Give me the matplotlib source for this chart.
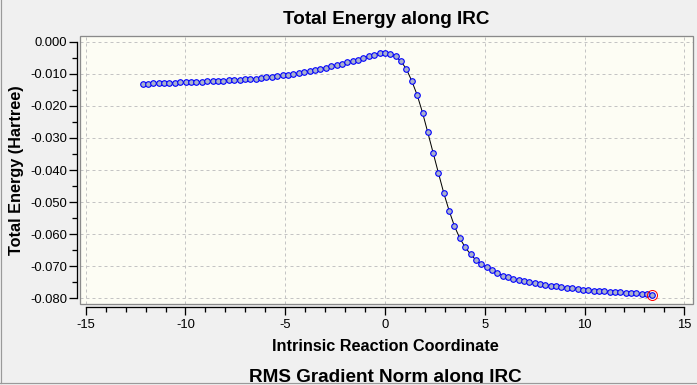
import matplotlib
matplotlib.use("Agg")
import matplotlib.pyplot as plt
from matplotlib.patches import Rectangle
from matplotlib.lines import Line2D
from matplotlib.ticker import MultipleLocator, FixedLocator

plt.rcParams['font.family'] = ['Liberation Sans', 'DejaVu Sans']
plt.rcParams['axes.unicode_minus'] = False

# ---- data ----
irc_left = [-12.15, -11.88, -11.61, -11.34, -11.07, -10.80, -10.53, -10.26, -9.99, -9.72,
            -9.45, -9.18, -8.91, -8.64, -8.37, -8.10, -7.83, -7.56, -7.29, -7.02,
            -6.75, -6.48, -6.21, -5.94, -5.67, -5.40, -5.13, -4.86, -4.59, -4.32,
            -4.05, -3.78, -3.51, -3.24, -2.97, -2.70, -2.43, -2.16, -1.89, -1.62,
            -1.35, -1.08, -0.81, -0.54, -0.27]
energy_left = [-0.0133, -0.0131, -0.0130, -0.0129, -0.0129, -0.0128, -0.0128, -0.0127, -0.0127, -0.0126,
               -0.0125, -0.0125, -0.0124, -0.0123, -0.0122, -0.0121, -0.0120, -0.0119, -0.0118, -0.0117,
               -0.0116, -0.0115, -0.0113, -0.0111, -0.0109, -0.0107, -0.0105, -0.0103, -0.0101, -0.0098,
               -0.0095, -0.0092, -0.0089, -0.0085, -0.0081, -0.0077, -0.0073, -0.0069, -0.0064, -0.0060,
               -0.0056, -0.0051, -0.0045, -0.0040, -0.0036]
irc_ts = [0.00]
energy_ts = [-0.0035]
irc_right = [0.27, 0.54, 0.80, 1.07, 1.34, 1.61, 1.88, 2.14, 2.41, 2.68,
             2.95, 3.22, 3.48, 3.75, 4.02, 4.29, 4.56, 4.82, 5.09, 5.36,
             5.63, 5.90, 6.16, 6.43, 6.70, 6.97, 7.24, 7.50, 7.77, 8.04,
             8.31, 8.58, 8.84, 9.11, 9.38, 9.65, 9.92, 10.18, 10.45, 10.72,
             10.99, 11.26, 11.52, 11.79, 12.06, 12.33, 12.60, 12.86, 13.13, 13.40]
energy_right = [-0.0037, -0.0046, -0.0061, -0.0085, -0.0122, -0.0166, -0.0221, -0.0282, -0.0346, -0.0410,
                -0.0473, -0.0528, -0.0575, -0.0613, -0.0641, -0.0663, -0.0681, -0.0694, -0.0703, -0.0713,
                -0.0722, -0.0729, -0.0734, -0.0739, -0.0744, -0.0747, -0.0750, -0.0752, -0.0756, -0.0758,
                -0.0761, -0.0763, -0.0765, -0.0767, -0.0769, -0.0771, -0.0773, -0.0774, -0.0776, -0.0777,
                -0.0778, -0.0779, -0.0780, -0.0781, -0.0783, -0.0784, -0.0785, -0.0786, -0.0787, -0.0789]

xticks = [-15, -10, -5, 0, 5, 10, 15]
xtick_labels = ["-15", "-10", "-5", "0", "5", "10", "15"]
yticks = [0.000, -0.010, -0.020, -0.030, -0.040, -0.050, -0.060, -0.070, -0.080]
ytick_labels = ["0.000", "-0.010", "-0.020", "-0.030", "-0.040", "-0.050", "-0.060", "-0.070", "-0.080"]

title = "Total Energy along IRC"
xlabel = "Intrinsic Reaction Coordinate"
ylabel = "Total Energy (Hartree)"
next_title = "RMS Gradient Norm along IRC"

irc = irc_left + irc_ts + irc_right
energy = energy_left + energy_ts + energy_right

# ---- figure ----
W, H = 697, 385
fig = plt.figure(figsize=(W / 100, H / 100), dpi=100)
fig.patch.set_facecolor('#f0f0f0')

px = 72 / 100.0  # points per pixel

ax_l, ax_r, ax_t, ax_b = 80.3, 693.3, 35.7, 304.3
ax = fig.add_axes([ax_l / W, 1 - ax_b / H, (ax_r - ax_l) / W, (ax_b - ax_t) / H])
ax.set_facecolor('#fdfdf4')

ax.set_xlim(-15.27, 15.45)
ax.set_ylim(-0.08187, 0.00187)

# gray plot frame
ax.add_patch(Rectangle((0, 0), 1, 1, transform=ax.transAxes, fill=False,
                       edgecolor='#8a8a8a', lw=1.3 * px, clip_on=False, zorder=5))

for s in ['top', 'right']:
    ax.spines[s].set_visible(False)
ax.spines['left'].set_position(('outward', 3 * px))
ax.spines['bottom'].set_position(('outward', 3 * px))
ax.spines['left'].set_bounds(-0.080, 0.000)
ax.spines['bottom'].set_bounds(-15, 15)
for s in ['left', 'bottom']:
    ax.spines[s].set_color('black')
    ax.spines[s].set_linewidth(1.3 * px)

ax.xaxis.set_major_locator(FixedLocator(xticks))
ax.set_xticklabels(xtick_labels)
ax.xaxis.set_minor_locator(FixedLocator([v for v in range(-15, 16) if v % 5 != 0]))
ax.yaxis.set_major_locator(FixedLocator(yticks))
ax.set_yticklabels(ytick_labels)
ax.yaxis.set_minor_locator(FixedLocator([-0.005, -0.015, -0.025, -0.035, -0.045, -0.055, -0.065, -0.075]))

ax.tick_params(axis='both', which='major', direction='out', length=8 * px, width=1.3 * px,
               labelsize=9.4, colors='black')
ax.tick_params(axis='both', which='minor', direction='out', length=5 * px, width=1.3 * px)
ax.tick_params(axis='x', which='major', pad=4 * px)
ax.tick_params(axis='y', which='major', pad=2 * px)

ax.grid(True, which='major', color='#c4c4c4', linestyle=(0, (3, 3)), linewidth=1 * px)
ax.set_axisbelow(True)

# data
ax.plot(irc, energy, color='black', lw=1.0 * px, zorder=3)
ax.plot(irc, energy, linestyle='none', marker='o', markersize=5.6 * px,
        markerfacecolor='#a9b1cc', markeredgecolor='#0000ff', markeredgewidth=1.1 * px, zorder=4)
ax.plot([irc[-1]], [energy[-1]], linestyle='none', marker='o', markersize=10 * px,
        markerfacecolor='none', markeredgecolor='#ff0000', markeredgewidth=1.0 * px, zorder=6)

# texts
fig.text(386.5 / W, 1 - 24 / H, title, ha='center', va='baseline',
         fontsize=13.6, fontweight='bold')
fig.text(385.3 / W, 1 - 350.7 / H, xlabel, ha='center', va='baseline',
         fontsize=11.7, fontweight='bold')
fig.text(16.5 / W, 1 - 170 / H, ylabel, ha='center', va='center', rotation=90,
         fontsize=11.7, fontweight='bold')
fig.text(385 / W, 1 - 381.7 / H, next_title, ha='center', va='baseline',
         fontsize=13.6, fontweight='bold')

# cover bottom strip and draw window border
fig.add_artist(Rectangle((0, 0), 1, 2 / H, transform=fig.transFigure,
                         facecolor='#f0f0f0', edgecolor='none', zorder=10))
fig.add_artist(Line2D([0, 1], [2.3 / H, 2.3 / H], transform=fig.transFigure,
                      color='#9a9a9a', lw=1.2 * px, zorder=11))
fig.add_artist(Line2D([1.2 / W, 1.2 / W], [2.3 / H, 1], transform=fig.transFigure,
                      color='#9a9a9a', lw=1.2 * px, zorder=11))

fig.savefig('out.png', dpi=100, facecolor=fig.get_facecolor())
